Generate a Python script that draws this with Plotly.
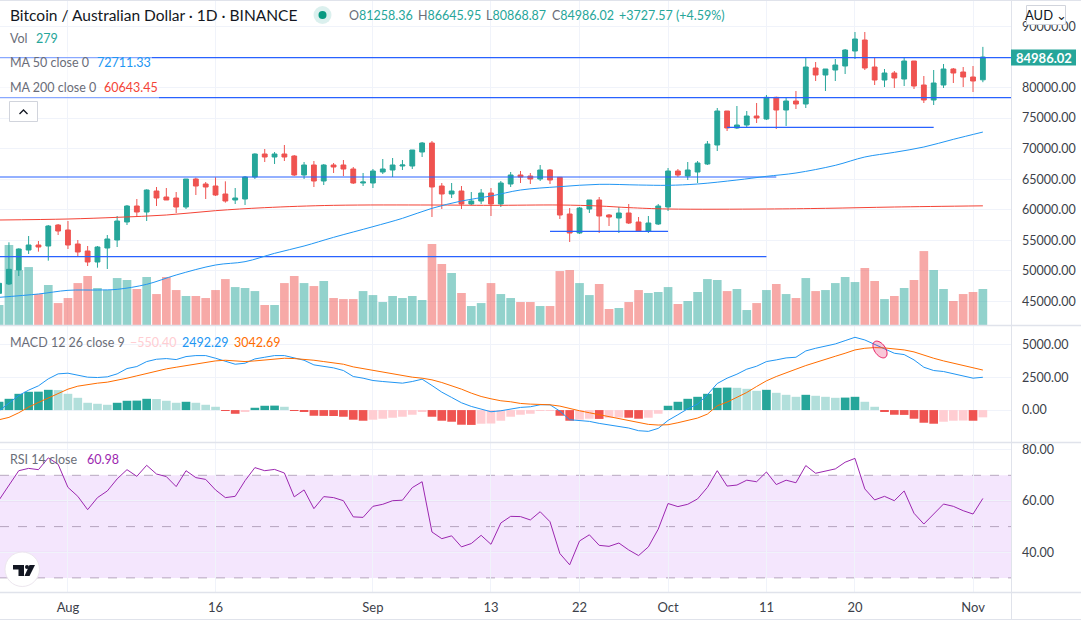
import numpy as np
import pandas as pd
import plotly.graph_objects as go

W, H = 1081, 620
PLOT_RIGHT = 1011
FONT = "Lato"

# daily candles, Jul 25 to Nov 2 (2021)
opens = [46329, 47855, 50146, 53417, 54236, 54071, 57507,
         56689, 54399, 53253, 51454, 53745, 55053, 58000, 60616, 59634, 63069, 62088, 61924, 60452, 65032, 64214,
         63887, 62579, 61597, 61760, 65359, 69122, 68631, 69122, 68794, 65687, 67323, 64705, 67323, 67321, 66667, 64377,
         64377, 66176, 66503, 67158, 67158, 69448, 70920, 63886, 62577, 63068, 60941, 61432, 62741, 60941, 64213, 65685,
         65522, 65031, 66503, 65304, 59305, 56197, 60123, 61596, 59142, 58651, 59469, 57997, 56525, 57669,
         60450, 66340, 65523, 66177, 67486, 70594, 76156, 73375, 73866, 75338, 74848, 78392, 76320, 77792, 77301, 83191,
         82045, 82863, 83518, 85972, 87771, 83354, 81228, 82373, 81391, 84336, 80410, 77956, 80410, 83027, 82536, 81718,
         81258.36]
highs = [48300, 54671, 53690, 55708, 54890, 57507, 57671,
         58162, 55053, 54071, 54071, 55871, 58980, 60780, 61760, 63342, 63724, 63560, 62906, 65032, 65250, 64542,
         65305, 64650, 63560, 65523, 69231, 69940, 69449, 70594, 68958, 67813, 67977, 67487, 67650, 68139, 66994, 66013,
         66667, 68303, 68466, 68139, 69775, 71084, 71247, 64377, 64377, 63886, 62904, 63395, 63559, 64704, 66176, 66340,
         66013, 67321, 66667, 65304, 60287, 60450, 61596, 62087, 59305, 60450, 60941, 58815, 58978, 60941,
         66830, 66668, 67813, 67977, 71248, 76647, 76156, 76974, 76156, 77465, 78774, 78501, 78283, 79428, 84827, 84172,
         83027, 84663, 86299, 89080, 89080, 84990, 83027, 82700, 84827, 84336, 81882, 82864, 83845, 83191, 83354, 83518,
         86645.95]
lows = [45800, 47691, 49164, 52763, 53145, 51673, 55871,
        53580, 52436, 50800, 50527, 50309, 53908, 57507, 58816, 58162, 60616, 61597, 59470, 60125, 62415, 61760,
        62251, 61160, 60943, 60780, 65032, 67813, 67487, 67977, 65523, 65032, 63724, 64051, 66014, 65522, 64213, 63886,
        63559, 65849, 65358, 66503, 66667, 68630, 58815, 60123, 61923, 60123, 60778, 60941, 58978, 60450, 63722, 64377,
        64213, 64704, 64213, 58488, 54725, 56034, 59469, 56197, 57342, 56197, 57669, 56361, 56197, 57506,
        59796, 65360, 64868, 64377, 67322, 69613, 72884, 73212, 73375, 74193, 74684, 73212, 73702, 76484, 76647, 81064,
        79428, 81064, 82209, 84663, 82863, 80410, 80082, 79919, 80246, 79755, 77465, 77138, 79919, 80737, 80082, 79264,
        80868.87]
closes = [47965, 50255, 53580, 54236, 53908, 57344, 56526,
          54236, 53090, 51454, 53908, 55218, 58162, 60616, 59634, 63233, 61924, 61597, 60452, 65032, 63887, 63724,
          62415, 61433, 61924, 65359, 69122, 68631, 69122, 68631, 65687, 67323, 64705, 67323, 66996, 66667, 64377, 64540,
          66340, 66667, 67321, 67321, 69775, 70920, 63722, 62577, 63068, 60941, 61432, 62741, 60941, 64377, 65685, 65358,
          65031, 66503, 64867, 59142, 56197, 60287, 61596, 58978, 58815, 59469, 57833, 56525, 57833, 60614,
          66340, 65686, 66504, 67650, 70757, 76156, 73375, 73866, 75338, 75011, 78392, 76320, 77792, 77301, 83354, 82045,
          83027, 83681, 86135, 87935, 83191, 81228, 82373, 81555, 84336, 80246, 77956, 80737, 83027, 82373, 81718, 81064,
          84986.02]
volumes = [155, 620, 426, 449, 240, 310, 170,
           209, 325, 380, 287, 271, 364, 349, 279, 372, 240, 372, 271, 225, 225, 209,
           271, 356, 294, 287, 263, 155, 155, 325, 380, 325, 302, 341, 209, 201, 201, 263,
           232, 178, 225, 209, 225, 194, 628, 473, 403, 248, 147, 170, 325, 240, 209, 178,
           178, 147, 147, 418, 426, 325, 232, 318, 124, 132, 178, 271, 248, 256,
           294, 163, 186, 256, 356, 349, 263, 279, 116, 170, 271, 318, 240, 209, 364, 263,
           271, 325, 372, 333, 442, 341, 201, 225, 287, 349, 573, 426, 279, 186, 240, 256,
           279]

macd_line = [-50, 530, 1111, 1515, 1843, 2373, 2752,
             2803, 2676, 2500, 2474, 2525, 2752, 3156, 3308, 3686, 3863, 3914, 3838, 4065, 4141, 4141,
             3939, 3686, 3484, 3560, 3888, 4015, 4141, 4141, 3939, 3787, 3434, 3333, 3206, 3005, 2550, 2424,
             2247, 2171, 2121, 2045, 2171, 2348, 1868, 1363, 960, 555, 278, 101, -126, -50, 76, 202,
             252, 404, 404, -76, -732, -808, -858, -1010, -1111, -1212, -1363, -1565, -1616, -1389,
             -783, -353, 101, 454, 1161, 2020, 2424, 2727, 3106, 3333, 3686, 3813, 3964, 4015, 4494, 4696,
             4873, 5025, 5277, 5530, 5328, 4999, 4646, 4318, 4217, 3813, 3257, 3005, 2929, 2777, 2575, 2424,
             2492.29]
macd_signal = [-732, -555, -202, 227, 581, 909, 1288,
               1591, 1818, 1944, 2045, 2121, 2247, 2424, 2601, 2777, 2979, 3131, 3257, 3383, 3510, 3636,
               3737, 3787, 3737, 3686, 3737, 3813, 3888, 3939, 3914, 3863, 3787, 3686, 3585, 3484, 3282, 3156,
               2979, 2853, 2727, 2601, 2500, 2424, 2297, 2096, 1868, 1591, 1288, 1035, 858, 707, 631, 505,
               454, 429, 404, 303, 101, -50, -202, -353, -505, -656, -808, -960, -1086, -1136,
               -1111, -960, -808, -606, -303, 328, 606, 960, 1338, 1793, 2222, 2550, 2853, 3106, 3383, 3636,
               3863, 4090, 4318, 4570, 4696, 4747, 4722, 4646, 4570, 4419, 4166, 3939, 3737, 3560, 3383, 3181,
               3042.69]
macd_hist = [631, 858, 1237, 1389, 1400, 1540, 1520,
             1237, 934, 555, 480, 404, 555, 707, 720, 858, 840, 707, 555, 631, 555, 404,
             252, -50, -280, -130, 177, 328, 340, 252, -50, -100, -430, -440, -450, -505, -730, -808,
             -730, -656, -580, -505, -353, -126, -505, -808, -884, -1111, -1125, -1035, -1020, -808, -505, -353,
             -278, -50, -40, -430, -808, -730, -656, -670, -580, -570, -580, -656, -580, -278,
             328, 631, 858, 1010, 1237, 1691, 1710, 1691, 1616, 1464, 1540, 1313, 1161, 1010, 1161, 1086,
             1010, 934, 950, 1010, 631, 252, -126, -353, -365, -656, -960, -1035, -884, -808, -795, -808,
             -550.40]
rsi = [60.4, 66, 71.8, 72.7, 72.2, 76.8, 74.3,
       65.3, 61.8, 56.6, 61.3, 63.9, 68.6, 72.2, 69.6, 73.9, 70.5, 69.5, 65.6, 71.8, 69.1, 68.4,
       64.3, 61.3, 61.8, 67.9, 73, 71.8, 72.3, 70.9, 61.6, 64.3, 57, 61.7, 61.3, 60.1, 53.8, 53.6,
       57.9, 58.7, 60.1, 60.3, 65.2, 67.5, 47.9, 45.3, 46.4, 42.1, 43.4, 46.6, 43.1, 51.4, 54, 53.9,
       52.6, 55.8, 51.9, 39.5, 35.1, 44.4, 46.8, 42.7, 42.3, 43.6, 40.9, 38.7, 42.1, 49,
       59, 57.8, 58.7, 60.8, 65.3, 71.8, 65.8, 66.2, 68.1, 67.5, 71.3, 66.4, 68.1, 67.1, 73.8, 70.8,
       71.6, 72.5, 75.1, 76.6, 64.7, 60.4, 61.8, 60.1, 63.9, 55.2, 51, 55.1, 58.8, 57.9, 56.2, 54.9,
       60.98]

ma50_dates = ["2021-07-25", "2021-07-29", "2021-08-01", "2021-08-04", "2021-08-06", "2021-08-09", "2021-08-12",
              "2021-08-16", "2021-08-19", "2021-08-22", "2021-08-25", "2021-08-28", "2021-09-01", "2021-09-04",
              "2021-09-07", "2021-09-10", "2021-09-13", "2021-09-16", "2021-09-20", "2021-09-24", "2021-09-28",
              "2021-10-01", "2021-10-04", "2021-10-08", "2021-10-11", "2021-10-14", "2021-10-18", "2021-10-21",
              "2021-10-24", "2021-10-27", "2021-10-30", "2021-11-02"]
ma50 = [45674, 46220, 46820, 46874, 46983, 47801, 49327, 50964, 51508, 52872, 54071, 55489, 57233, 58597,
        60233, 61432, 62250, 63232, 63777, 64158, 64050, 64000, 64214, 64868, 65468, 66013, 67268, 68631,
        69394, 70267, 71521, 72711.33]
ma200_dates = ["2021-07-25", "2021-08-01", "2021-08-06", "2021-08-11", "2021-08-16", "2021-08-21", "2021-08-28",
               "2021-09-07", "2021-09-13", "2021-09-20", "2021-09-24", "2021-09-27", "2021-10-01", "2021-10-11",
               "2021-10-17", "2021-10-24", "2021-11-02"]
ma200 = [58325, 58489, 58762, 59143, 59852, 60342, 60724, 60778, 60723, 60778, 60614, 60350, 60124, 60124,
         60234, 60450, 60643.45]

# drawn support/resistance lines
level_prices = [84881, 78338, 65360, 52327, 56470, 73485]
level_starts = ["2021-07-20", "2021-07-20", "2021-07-20", "2021-07-20", "2021-09-19", "2021-10-07"]
level_ends = ["2021-11-10", "2021-11-10", "2021-10-12", "2021-10-11", "2021-10-01", "2021-10-28"]

tick_dates = ["2021-08-01", "2021-08-16", "2021-09-01", "2021-09-13", "2021-09-22",
              "2021-10-01", "2021-10-11", "2021-10-20", "2021-11-01"]
tick_labels = ["Aug", "16", "Sep", "13", "22", "Oct", "11", "20", "Nov"]
# 85000 sits under the last price tag, so it shows no label
price_ticks = [45000, 50000, 55000, 60000, 65000, 70000, 75000, 80000, 90000]
macd_ticks = [0, 2500, 5000]
rsi_ticks = [40, 60, 80]

UP = "#26a69a"
DOWN = "#ef5350"
GRID = "#f0f3fa"
BORDER = "#e0e3eb"
LABEL = "#6a6d78"
TICK = "#3c3f4a"

dates = pd.date_range("2021-07-25", periods=len(closes), freq="D")


def px(x):
    return x / W


def py(y):
    return 1 - y / H


vol_colors = ["rgba(38,166,154,0.5)" if c >= o else "rgba(239,83,80,0.5)" for o, c in zip(opens, closes)]
hist_colors = []
prev = macd_hist[0] - 1
for v in macd_hist:
    if v >= 0:
        hist_colors.append(UP if v > prev else "#b2dfdb")
    else:
        hist_colors.append(DOWN if v < prev else "#ffcdd2")
    prev = v

day_ms = 86400000
fig = go.Figure()
fig.add_trace(go.Bar(x=dates, y=volumes, marker=dict(color=vol_colors, line_width=0), width=0.88 * day_ms,
                     xaxis="x", yaxis="y", hoverinfo="skip"))
for start, end, level in zip(level_starts, level_ends, level_prices):
    fig.add_trace(go.Scatter(x=[start, end], y=[level, level], mode="lines", line=dict(color="#2962ff", width=1.2),
                             xaxis="x", yaxis="y2", hoverinfo="skip"))
fig.add_trace(go.Scatter(x=ma200_dates, y=ma200, mode="lines", line=dict(color="#f44336", width=1, shape="spline"),
                         xaxis="x", yaxis="y2", hoverinfo="skip"))
fig.add_trace(go.Scatter(x=ma50_dates, y=ma50, mode="lines", line=dict(color="#2196f3", width=1, shape="spline"),
                         xaxis="x", yaxis="y2", hoverinfo="skip"))
fig.add_trace(go.Candlestick(x=dates, open=opens, high=highs, low=lows, close=closes, xaxis="x", yaxis="y2",
                             increasing=dict(line=dict(color=UP, width=1), fillcolor=UP),
                             decreasing=dict(line=dict(color=DOWN, width=1), fillcolor=DOWN),
                             whiskerwidth=0, hoverinfo="skip"))
fig.add_trace(go.Bar(x=dates, y=macd_hist, marker=dict(color=hist_colors, line_width=0), width=0.88 * day_ms,
                     xaxis="x2", yaxis="y3", hoverinfo="skip"))
fig.add_trace(go.Scatter(x=dates, y=macd_line, mode="lines", line=dict(color="#2196f3", width=1),
                         xaxis="x2", yaxis="y3", hoverinfo="skip"))
fig.add_trace(go.Scatter(x=dates, y=macd_signal, mode="lines", line=dict(color="#ff6d00", width=1),
                         xaxis="x2", yaxis="y3", hoverinfo="skip"))
fig.add_trace(go.Scatter(x=dates, y=rsi, mode="lines", line=dict(color="#9c27b0", width=1),
                         xaxis="x3", yaxis="y4", hoverinfo="skip"))

x_range = ["2021-07-25 02:12", "2021-11-04 20:38"]
x_common = dict(type="date", range=x_range, domain=[0, PLOT_RIGHT / W], tickmode="array", tickvals=tick_dates,
                ticktext=tick_labels, showgrid=True, gridcolor=GRID, gridwidth=1, zeroline=False, showline=False,
                ticks="", rangeslider=dict(visible=False))
y_common = dict(side="right", showline=False, ticks="", zeroline=False, showgrid=True, gridcolor=GRID, gridwidth=1,
                tickformat=".2f", tickfont=dict(family=FONT, size=12.5, color=TICK), ticklabelstandoff=10)

shapes = [
    # RSI band and its dashed bounds
    dict(type="rect", xref="x3 domain", yref="y4", x0=0, x1=1, y0=30, y1=70, fillcolor="rgba(163,47,238,0.12)",
         line_width=0, layer="below"),
]
for level in [70, 50, 30]:
    shapes.append(dict(type="line", xref="x3 domain", yref="y4", x0=0, x1=1, y0=level, y1=level, layer="below",
                       line=dict(color="rgba(120,100,130,0.5)", width=1, dash="dash")))
# grid inside the band stays visible
for level in [60, 40]:
    shapes.append(dict(type="line", xref="x3 domain", yref="y4", x0=0, x1=1, y0=level, y1=level, layer="below",
                       line=dict(color="rgba(120,100,130,0.12)", width=1)))
# panel borders
for y in [0.5, 325.5, 442.5, 592.5, 619.5]:
    shapes.append(dict(type="line", xref="paper", yref="paper", x0=0, x1=1, y0=py(y), y1=py(y),
                       line=dict(color=BORDER, width=1.5 if y in (325.5, 442.5, 592.5) else 1)))
shapes.append(dict(type="line", xref="paper", yref="paper", x0=px(PLOT_RIGHT + 0.5), x1=px(PLOT_RIGHT + 0.5),
                   y0=py(0), y1=py(620), line=dict(color=BORDER, width=1)))
# legend rows veil the lines behind them
for x1, y0, y1 in [(152, 52, 75), (159, 75, 99)]:
    shapes.append(dict(type="rect", xref="paper", yref="paper", x0=0, x1=px(x1), y0=py(y0), y1=py(y1),
                       fillcolor="rgba(255,255,255,0.45)", line_width=0, layer="above"))
# status dot
for r, col in [(9, "rgba(0,150,136,0.14)"), (4, "#089981")]:
    shapes.append(dict(type="circle", xref="paper", yref="paper", x0=px(322.5 - r), x1=px(322.5 + r),
                       y0=py(15 - r), y1=py(15 + r), fillcolor=col, line_width=0))
# tilted marker on the MACD cross
t = np.linspace(0, 2 * np.pi, 40)
ang = np.radians(55)
ex = 880 + 9.5 * np.cos(t) * np.cos(ang) - 5.5 * np.sin(t) * np.sin(ang)
ey = 349.5 + 9.5 * np.cos(t) * np.sin(ang) + 5.5 * np.sin(t) * np.cos(ang)
path = "M" + " L".join(f"{px(a):.5f},{py(b):.5f}" for a, b in zip(ex, ey)) + " Z"
shapes.append(dict(type="path", xref="paper", yref="paper", path=path, fillcolor="rgba(233,30,99,0.25)",
                   line=dict(color="#e91e63", width=1), layer="above"))


def poly(points):
    return "M" + " L".join(f"{px(a):.5f},{py(b):.5f}" for a, b in points) + " Z"


# collapse button
shapes.append(dict(type="rect", xref="paper", yref="paper", x0=px(9.5), x1=px(37.5), y0=py(101.5), y1=py(121.5),
                   fillcolor="white", line=dict(color="#d1d4dc", width=1)))
shapes.append(dict(type="path", xref="paper", yref="paper",
                   path=f"M{px(19.5):.5f},{py(114):.5f} L{px(23.5):.5f},{py(110):.5f} L{px(27.5):.5f},{py(114):.5f}",
                   line=dict(color="#131722", width=1.3)))
# AUD button
shapes.append(dict(type="rect", xref="paper", yref="paper", x0=px(1026.5), x1=px(1065.5), y0=py(5.5), y1=py(24.5),
                   fillcolor="white", line=dict(color="#d1d4dc", width=1), layer="above"))
# TradingView badge
shapes.append(dict(type="circle", xref="paper", yref="paper", x0=px(5), x1=px(39.5), y0=py(552), y1=py(586.5),
                   fillcolor="white", line=dict(color="#ece6ee", width=1), layer="above"))
shapes.append(dict(type="path", xref="paper", yref="paper", line_width=0, fillcolor="#131722", layer="above",
                   path=poly([(13, 565), (24, 565), (24, 576), (18.5, 576), (18.5, 569.5), (13, 569.5)])))
shapes.append(dict(type="path", xref="paper", yref="paper", line_width=0, fillcolor="#131722", layer="above",
                   path=poly([(29.5, 565), (35, 565), (29.5, 576), (24.5, 576)])))
shapes.append(dict(type="circle", xref="paper", yref="paper", x0=px(25), x1=px(29), y0=py(565), y1=py(569),
                   fillcolor="#131722", line_width=0, layer="above"))
# last price tag
shapes.append(dict(type="rect", xref="paper", yref="paper", x0=px(PLOT_RIGHT), x1=px(1076), y0=py(49.5), y1=py(65.5),
                   fillcolor=UP, line_width=0, layer="above"))


def label(x, y, text, color=LABEL, size=12.5, anchor="left", **kw):
    return dict(xref="paper", yref="paper", x=px(x), y=py(y), text=text, showarrow=False, xanchor=anchor,
                yanchor="middle", align="left", font=dict(family=FONT, size=size, color=color),
                borderpad=0, **kw)


annotations = [
    label(9, 15, "Bitcoin / Australian Dollar · 1D · BINANCE", color="#131722", size=15.5),
    label(347.5, 16, f'O<span style="color:{UP}">81258.36</span>'),
    label(416.5, 16, f'H<span style="color:{UP}">86645.95</span>'),
    label(484.5, 16, f'L<span style="color:{UP}">80868.87</span>'),
    label(550.5, 16, f'C<span style="color:{UP}">84986.02</span>'),
    label(618, 16, "+3727.57 (+4.59%)", color=UP),
    label(9, 39, "Vol"), label(35, 39, "279", color=UP),
    label(9, 63, "MA 50 close 0"), label(96, 63, "72711.33", color="#2196f3"),
    label(9, 87, "MA 200 close 0"), label(103, 87, "60643.45", color="#f44336"),
    label(9, 342.5, "MACD 12 26 close 9"),
    label(129, 342.5, "−550.40", color="#ffcdd2"),
    label(181, 342.5, "2492.29", color="#2196f3"),
    label(233, 342.5, "3042.69", color="#ff6d00"),
    label(9, 459, "RSI 14 close"), label(86, 459, "60.98", color="#9c27b0"),
    label(1043.5, 57.5, "<b>84986.02</b>", color="white", size=13, anchor="center"),
    label(1046, 15, "AUD ⌄", color="#131722", size=13, anchor="center"),
]

fig.update_layout(
    width=W, height=H, margin=dict(l=0, r=0, t=0, b=0), autosize=False, paper_bgcolor="white", plot_bgcolor="white",
    showlegend=False, bargap=0.1, hovermode=False, shapes=shapes, annotations=annotations,
    xaxis=dict(x_common, anchor="y", showticklabels=False),
    xaxis2=dict(x_common, anchor="y3", matches="x", showticklabels=False),
    xaxis3=dict(x_common, anchor="y4", matches="x", showticklabels=True, ticklabelstandoff=6,
                tickfont=dict(family=FONT, size=13, color=TICK)),
    yaxis=dict(domain=[py(325), 1], range=[0, 2519], visible=False, showgrid=False, fixedrange=True),
    yaxis2=dict(y_common, domain=[py(325), 1], overlaying="y", anchor="x", range=[41148, 94315],
                tickmode="array", tickvals=price_ticks),
    yaxis3=dict(y_common, domain=[py(442), py(326)], anchor="x2", range=[-2424, 6388],
                tickmode="array", tickvals=macd_ticks),
    yaxis4=dict(y_common, domain=[py(592), py(443)], anchor="x3", range=[24.5, 82.6],
                tickmode="array", tickvals=rsi_ticks),
)

fig.write_html("out.html", config=dict(displayModeBar=False), post_script="document.body.style.margin='0';")
